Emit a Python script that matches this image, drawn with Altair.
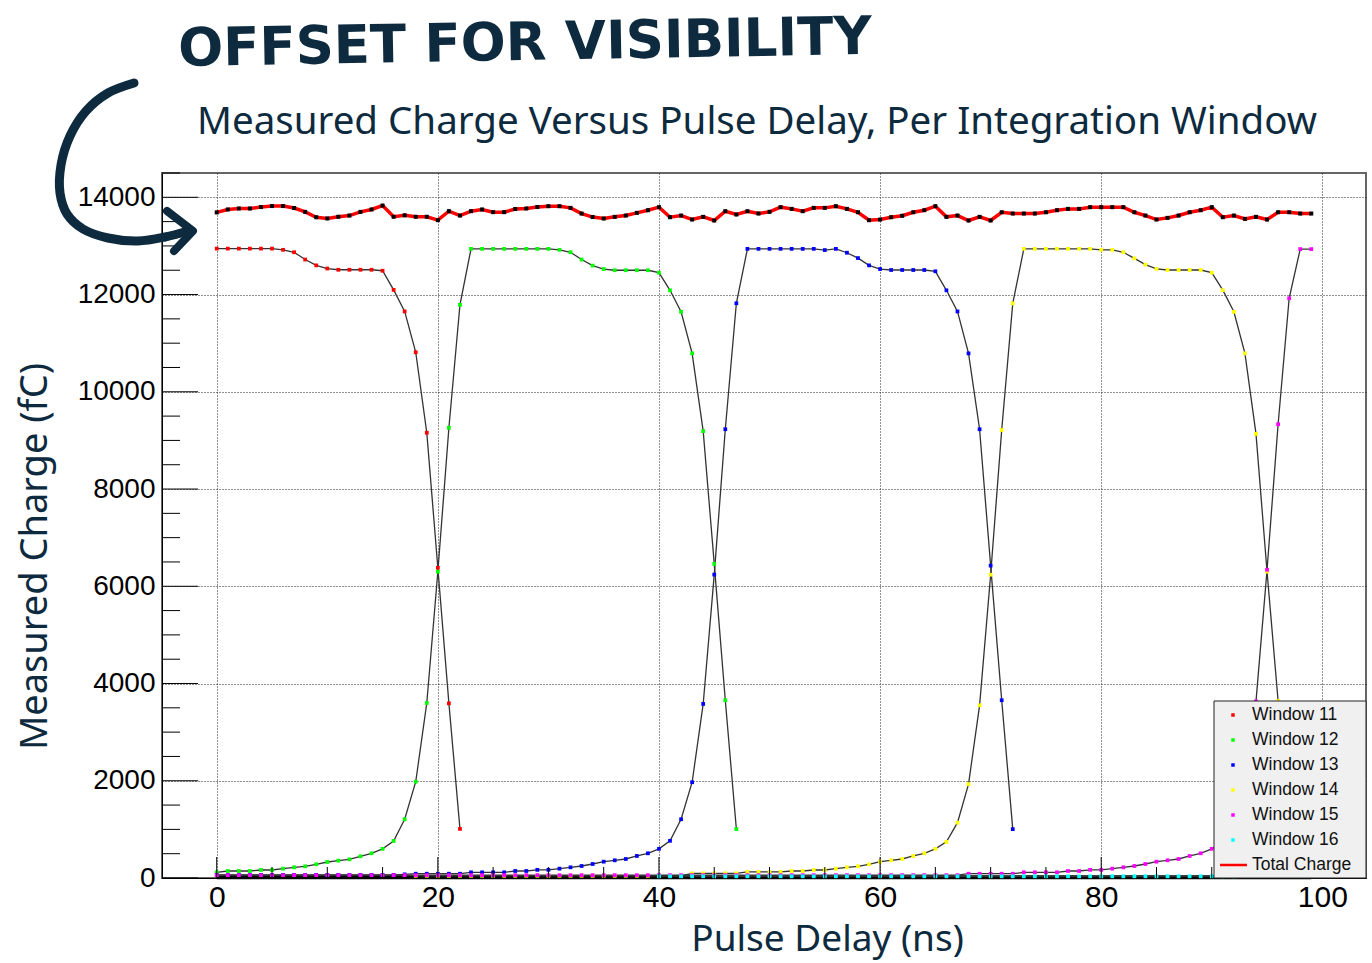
import altair as alt
import pandas as pd

NAVY = "#0d2a3e"

# ---- measured charge per integration window (fC), one value per ns of delay ----
w11_start = 0
w11 = [12945, 12945, 12945, 12945, 12945, 12945, 12920, 12870, 12720, 12600,
       12535, 12510, 12510, 12510, 12510, 12490, 12096, 11653, 10813, 9158,
       6381, 3592, 1010]

w12_start = 0
w12 = [117, 144, 144, 144, 165, 165, 192, 220, 240, 282,
       329, 357, 384, 446, 508, 600, 762, 1208, 1980, 3600,
       6300, 9260, 11790, 12940, 12940, 12940, 12940, 12940, 12940, 12940,
       12940, 12920, 12870, 12720, 12595, 12525, 12500, 12500, 12500, 12500,
       12450, 12087, 11645, 10791, 9191, 6460, 3656, 1005]

w13_start = 0
w13 = [65, 65, 65, 65, 65, 65, 65, 65, 65, 65,
       65, 65, 65, 65, 65, 65, 65, 75, 88, 88,
       88, 88, 88, 117, 117, 117, 117, 144, 144, 168,
       168, 192, 220, 247, 288, 336, 364, 391, 453, 508,
       600, 765, 1208, 1970, 3580, 6240, 9230, 11820, 12940, 12940,
       12940, 12940, 12940, 12940, 12940, 12915, 12940, 12860, 12750, 12600,
       12525, 12505, 12505, 12505, 12505, 12478, 12087, 11653, 10790, 9230,
       6425, 3656, 1005]

w14_start = 18
w14 = [45, 45, 45, 45, 45, 45, 45, 45, 45, 45,
       45, 45, 45, 45, 45, 45, 45, 45, 45, 45,
       45, 45, 45, 45, 45, 96, 96, 96, 96, 96,
       124, 124, 124, 124, 144, 144, 165, 165, 192, 220,
       241, 282, 336, 364, 391, 453, 508, 600, 743, 1138,
       1931, 3551, 6238, 9213, 11818, 12940, 12940, 12940, 12940, 12940,
       12940, 12940, 12920, 12920, 12870, 12745, 12615, 12528, 12505, 12505,
       12505, 12505, 12450, 12090, 11645, 10790, 9135, 6300, 3640, 1000]

w15_start = 0
w15 = [58, 58, 58, 58, 58, 58, 58, 58, 58, 58,
       58, 58, 58, 58, 58, 58, 58, 58, 58, 58,
       58, 58, 58, 58, 58, 58, 58, 58, 58, 58,
       58, 58, 58, 58, 58, 58, 58, 58, 58, 58,
       58, 58, 58, 58, 58, 58, 58, 58, 58, 58,
       58, 58, 58, 58, 58, 58, 58, 58, 58, 58,
       58, 58, 58, 58, 58, 58, 58, 58, 88, 88,
       88, 88, 88, 117, 117, 117, 117, 144, 144, 168,
       168, 192, 220, 247, 288, 336, 364, 391, 453, 508,
       600, 765, 1208, 1970, 3633, 6340, 9333, 11923, 12935, 12935]

w16_start = 40
w16 = [35, 35, 35, 35, 35, 35, 35, 35, 35, 35,
       35, 35, 35, 35, 35, 35, 35, 35, 35, 35,
       35, 35, 35, 35, 35, 35, 35, 35, 35, 35,
       35, 35, 35, 35, 35, 35, 35, 35, 35, 35,
       35, 35, 35, 35, 35, 35, 35, 35, 35, 35,
       35, 35, 35, 40, 40, 40, 40, 40, 40, 40]

# remaining (empty) windows sit on the floor of the plot
floor_start = 0
floor_charge = [18, 18, 18, 18, 18, 18, 18, 18, 18, 18,
                18, 18, 18, 18, 18, 18, 18, 18, 18, 18,
                18, 18, 18, 18, 18, 18, 18, 18, 18, 18,
                18, 18, 18, 18, 18, 18, 18, 18, 18, 18,
                18, 18, 18, 18, 18, 18, 18, 18, 18, 18,
                18, 18, 18, 18, 18, 18, 18, 18, 18, 18,
                18, 18, 18, 18, 18, 18, 18, 18, 18, 18,
                18, 18, 18, 18, 18, 18, 18, 18, 18, 18,
                18, 18, 18, 18, 18, 18, 18, 18, 18, 18,
                18, 18, 18, 18, 18, 18, 18, 18, 18, 18]

# summed charge, drawn with an offset so it clears the window curves
total_start = 0
total_charge = [13690, 13750, 13770, 13770, 13800, 13820, 13820, 13780, 13700, 13590,
                13565, 13600, 13625, 13700, 13750, 13830, 13600, 13630, 13600, 13600,
                13530, 13715, 13625, 13715, 13750, 13695, 13695, 13760, 13770, 13800,
                13817, 13817, 13783, 13666, 13594, 13564, 13598, 13625, 13680, 13735,
                13797, 13591, 13625, 13543, 13598, 13523, 13714, 13646, 13714, 13666,
                13701, 13797, 13762, 13714, 13783, 13783, 13817, 13762, 13693, 13529,
                13543, 13591, 13620, 13693, 13735, 13817, 13598, 13625, 13523, 13598,
                13523, 13693, 13666, 13666, 13666, 13693, 13735, 13762, 13762, 13797,
                13797, 13797, 13797, 13693, 13625, 13543, 13577, 13625, 13693, 13735,
                13797, 13591, 13625, 13557, 13598, 13543, 13693, 13693, 13666, 13666]

window_names = ["Window 11", "Window 12", "Window 13", "Window 14", "Window 15", "Window 16"]
window_colors = ["#ff0000", "#00ff00", "#0000ff", "#ffff00", "#ff00ff", "#00ffff"]
window_series = [(w11_start, w11), (w12_start, w12), (w13_start, w13),
                 (w14_start, w14), (w15_start, w15), (w16_start, w16)]

x_tick_labels = [0, 20, 40, 60, 80, 100]
y_tick_labels = [0, 2000, 4000, 6000, 8000, 10000, 12000, 14000]


def series_frame(name, start, values):
    return pd.DataFrame({"series": name,
                         "delay": [start + i for i in range(len(values))],
                         "charge": values})


win_df = pd.concat([series_frame(n, s, v) for n, (s, v) in zip(window_names, window_series)],
                   ignore_index=True)
total_df = series_frame("Total Charge", total_start, total_charge)
floor_df = series_frame("floor", floor_start, floor_charge)

# ---- geometry of the frame ----
W, H = 1204, 705
X_DOM = [-4.95, 103.95]
Y_DOM = [0, 14500]

FONT_TICK = "Liberation Sans"
FONT_TEXT = "Noto Sans"

x_enc = alt.X("delay:Q",
              scale=alt.Scale(domain=X_DOM, nice=False, zero=False),
              axis=alt.Axis(values=x_tick_labels, format="d", grid=True, gridDash=[1, 2],
                            gridColor="#222", gridWidth=1, ticks=False,
                            domainColor="#000", domainWidth=1,
                            labelFont=FONT_TICK, labelFontSize=30, labelColor="#000",
                            labelPadding=4, labelFlush=False,
                            title="Pulse Delay (ns)", titleFont=FONT_TEXT, titleFontSize=37,
                            titleFontWeight="normal", titleColor=NAVY,
                            titleX=665, titleY=61, titleAlign="center", titleBaseline="middle"))
y_enc = alt.Y("charge:Q",
              scale=alt.Scale(domain=Y_DOM, nice=False, zero=False),
              axis=alt.Axis(values=y_tick_labels, format="d", grid=True, gridDash=[1, 2],
                            gridColor="#222", gridWidth=1, ticks=False,
                            domainColor="#000", domainWidth=1,
                            labelFont=FONT_TICK, labelFontSize=28, labelColor="#000",
                            labelPadding=7,
                            title="Measured Charge (fC)", titleFont=FONT_TEXT, titleFontSize=38,
                            titleFontWeight="normal", titleColor=NAVY, titleAngle=270,
                            titleX=-127, titleY=383, titleAlign="center", titleBaseline="middle"))

floor_line = alt.Chart(floor_df).mark_line(color="#000", strokeWidth=4).encode(
    x=x_enc, y=y_enc, order="delay:Q")

win_lines = alt.Chart(win_df).mark_line(color="#333", strokeWidth=1.3).encode(
    x=x_enc, y=y_enc, detail="series:N", order="delay:Q")

win_points = alt.Chart(win_df).mark_square(size=14, opacity=1).encode(
    x=x_enc, y=y_enc,
    color=alt.Color("series:N", scale=alt.Scale(domain=window_names, range=window_colors),
                    legend=None))

total_line = alt.Chart(total_df).mark_line(color="#ff0000", strokeWidth=3.5).encode(
    x=x_enc, y=y_enc, order="delay:Q")
total_points = alt.Chart(total_df).mark_square(color="#000", size=16, opacity=1).encode(
    x=x_enc, y=y_enc)

# inward-pointing ticks along the bottom and left edges
x_major = pd.DataFrame({"delay": list(range(0, 101, 20))})
x_minor = pd.DataFrame({"delay": [v for v in range(0, 101, 5) if v % 20]})
y_major = pd.DataFrame({"charge": list(range(0, 14001, 2000))})
y_minor = pd.DataFrame({"charge": [v for v in range(0, 14501, 500) if v % 2000]})

x_major_ticks = alt.Chart(x_major).mark_rule(color="#000", strokeWidth=1).encode(
    x=x_enc, y=alt.value(H), y2=alt.value(H - 21))
x_minor_ticks = alt.Chart(x_minor).mark_rule(color="#000", strokeWidth=1).encode(
    x=x_enc, y=alt.value(H), y2=alt.value(H - 11))
y_major_ticks = alt.Chart(y_major).mark_rule(color="#000", strokeWidth=1).encode(
    y=y_enc, x=alt.value(0), x2=alt.value(36))
y_minor_ticks = alt.Chart(y_minor).mark_rule(color="#000", strokeWidth=1).encode(
    y=y_enc, x=alt.value(0), x2=alt.value(18))

# ---- legend box in the lower-right corner ----
one = alt.Data(values=[{}])
legend_layers = [
    alt.Chart(one).mark_rect(fill="#f0f0f0", stroke="#222", strokeWidth=1).encode(
        x=alt.value(1052), x2=alt.value(W), y=alt.value(528), y2=alt.value(H))
]
row_y = [542 + 25 * i for i in range(7)]
for i, (name, color) in enumerate(zip(window_names, window_colors)):
    legend_layers.append(
        alt.Chart(one).mark_square(size=12, color=color, opacity=1).encode(
            x=alt.value(1071), y=alt.value(row_y[i])))
    legend_layers.append(
        alt.Chart(alt.Data(values=[{"label": name}])).mark_text(
            align="left", baseline="middle", font=FONT_TICK, fontSize=17.5, color="#111").encode(
            text="label:N", x=alt.value(1090), y=alt.value(row_y[i])))
legend_layers.append(
    alt.Chart(one).mark_rule(color="#ff0000", strokeWidth=2.5).encode(
        x=alt.value(1058), x2=alt.value(1085), y=alt.value(row_y[6])))
legend_layers.append(
    alt.Chart(alt.Data(values=[{"label": "Total Charge"}])).mark_text(
        align="left", baseline="middle", font=FONT_TICK, fontSize=17.5, color="#111").encode(
        text="label:N", x=alt.value(1090), y=alt.value(row_y[6])))

# ---- titles and the hand-drawn note ----
title = alt.Chart(alt.Data(values=[{"t": "Measured Charge Versus Pulse Delay, Per Integration Window"}])
                  ).mark_text(font=FONT_TEXT, fontSize=38.5, color=NAVY, align="center",
                              baseline="middle").encode(
    text="t:N", x=alt.value(595), y=alt.value(-51))

note = alt.Chart(alt.Data(values=[{"t": "OFFSET FOR VISIBILITY"}])).mark_text(
    font="DejaVu Sans", fontWeight="bold", fontSize=53, color=NAVY, align="center",
    baseline="middle", angle=359).encode(
    text="t:N", x=alt.value(363), y=alt.value(-129))


def to_data(px, py):
    """Frame pixel offset -> (delay, charge) so the note arrow shares the plot scales."""
    return (X_DOM[0] + px / W * (X_DOM[1] - X_DOM[0]),
            Y_DOM[1] - py / H * (Y_DOM[1] - Y_DOM[0]))


arrow_body_px = [(134, 83), (108, 93), (86, 111), (70, 136), (61, 165), (60, 193),
                 (67, 214), (83, 229), (108, 238), (138, 241), (165, 237), (188, 231)]
arrow_head_px = [(167, 211), (193, 231), (174, 251)]


def path_frame(points):
    rows = []
    for i, (ax, ay) in enumerate(points):
        d, c = to_data(ax - 162, ay - 173)
        rows.append({"i": i, "delay": d, "charge": c})
    return pd.DataFrame(rows)


arrow_body = alt.Chart(path_frame(arrow_body_px)).mark_line(
    color=NAVY, strokeWidth=9, strokeCap="round", interpolate="catmull-rom").encode(
    x=x_enc, y=y_enc, order="i:Q")
arrow_head = alt.Chart(path_frame(arrow_head_px)).mark_line(
    color=NAVY, strokeWidth=8, strokeCap="round", strokeJoin="round").encode(
    x=x_enc, y=y_enc, order="i:Q")

chart = alt.layer(
    floor_line, win_lines, win_points, total_line, total_points,
    x_major_ticks, x_minor_ticks, y_major_ticks, y_minor_ticks,
    *legend_layers, title, note, arrow_body, arrow_head
).properties(
    width=W, height=H,
    autosize=alt.AutoSizeParams(type="none"),
    padding={"left": 162, "top": 173, "right": 6, "bottom": 85},
    background="white",
).configure_view(stroke="#666", strokeWidth=2)

chart.save("out.html", embed_options={"renderer": "svg", "actions": False})
